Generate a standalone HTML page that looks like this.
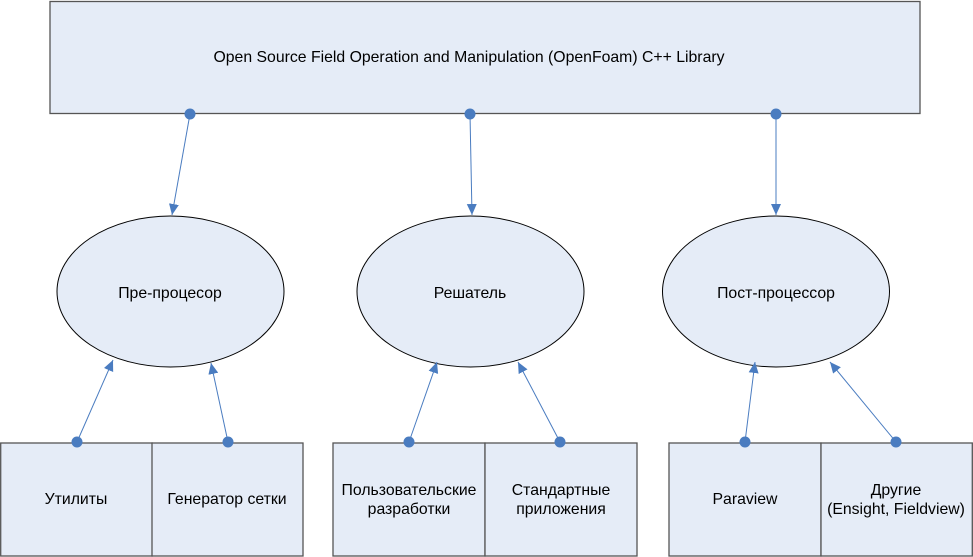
<!DOCTYPE html>
<html><head><meta charset="utf-8"><style>
body{margin:0;background:#fff;}
svg{display:block;font-family:"Liberation Sans",Arial,sans-serif;font-size:15.8px;}
</style></head><body>
<svg width="973" height="557" viewBox="0 0 973 557" xmlns="http://www.w3.org/2000/svg">
<defs>
<marker id="a" markerWidth="12" markerHeight="12" refX="11" refY="5" orient="auto" markerUnits="userSpaceOnUse">
<path d="M0,0 L11,5 L0,10 z" fill="#4a7cc0"/></marker>
</defs>
<g fill="#e5ecf7" stroke="#555" stroke-width="1.3">
<rect x="50" y="1.5" width="870" height="112"/>
<rect x="0.7" y="443" width="151.5" height="113"/>
<rect x="152" y="443" width="151" height="113"/>
<rect x="333" y="443" width="152" height="113"/>
<rect x="485" y="443" width="152" height="113"/>
<rect x="669" y="443" width="152" height="113"/>
<rect x="821" y="443" width="151.3" height="113"/>
</g>
<g fill="#e5ecf7" stroke="#000" stroke-width="1">
<ellipse cx="170.5" cy="291.5" rx="113.5" ry="75.5"/>
<ellipse cx="470.5" cy="291.5" rx="113.5" ry="75.5"/>
<ellipse cx="776" cy="291.5" rx="113.5" ry="75.5"/>
</g>
<g stroke="#4a7cc0" stroke-width="1" marker-end="url(#a)">
<line x1="190" y1="114" x2="172" y2="215"/>
<line x1="470" y1="114" x2="472" y2="215"/>
<line x1="776" y1="114" x2="776" y2="215"/>
<line x1="77" y1="442" x2="113" y2="360"/>
<line x1="228" y1="442" x2="211" y2="363"/>
<line x1="409" y1="442" x2="437" y2="362"/>
<line x1="560" y1="442" x2="518" y2="362"/>
<line x1="745" y1="442" x2="755" y2="362"/>
<line x1="896" y1="442" x2="830" y2="362"/>
</g>
<g fill="#4a7cc0">
<circle cx="190" cy="114" r="5.5"/><circle cx="470" cy="114" r="5.5"/><circle cx="776" cy="114" r="5.5"/>
<circle cx="77" cy="442" r="5.5"/><circle cx="228" cy="442" r="5.5"/>
<circle cx="409" cy="442" r="5.5"/><circle cx="560" cy="442" r="5.5"/>
<circle cx="745" cy="442" r="5.5"/><circle cx="896" cy="442" r="5.5"/>
</g>
<g fill="#000" text-anchor="middle">
<text x="469" y="62">Open Source Field Operation and Manipulation (OpenFoam) C++ Library</text>
<text x="170" y="298">Пре-процесор</text>
<text x="470" y="298">Решатель</text>
<text x="776" y="298">Пост-процессор</text>
<text x="76" y="504">Утилиты</text>
<text x="227" y="504">Генератор сетки</text>
<text x="409" y="495">Пользовательские</text>
<text x="409" y="514">разработки</text>
<text x="561" y="495">Стандартные</text>
<text x="561" y="514">приложения</text>
<text x="745" y="504">Paraview</text>
<text x="896" y="495">Другие</text>
<text x="896" y="514">(Ensight, Fieldview)</text>
</g>
</svg>
</body></html>
